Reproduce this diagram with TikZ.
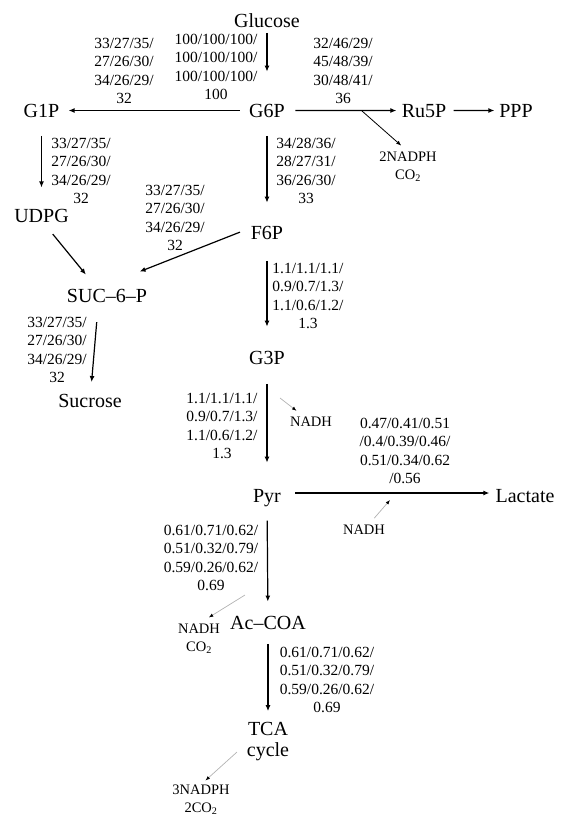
\documentclass[tikz,border=0pt]{standalone}
\usepackage{fontspec}
\setmainfont{Liberation Serif}
\usetikzlibrary{arrows.meta}

\tikzset{every picture/.style={line width=1.2pt}}
\tikzset{
  metab/.style={anchor=base,inner sep=0pt,font=\fontsize{20}{21}\selectfont},
  ratio/.style={align=center,inner sep=0pt,font=\fontsize{15.5}{18.6}\selectfont},
  cofac/.style={align=center,inner sep=0pt,font=\fontsize{14.5}{18}\selectfont},
  flux/.style={-{Latex[length=6pt,width=5pt]}},
  side/.style={-{Latex[length=4.5pt,width=3.5pt,color=black]},line width=0.7pt,draw=black!30},
}

\begin{document}
\begin{tikzpicture}[x=1pt,y=1pt,yscale=-1,xscale=1]
\useasboundingbox (0,0) rectangle (561,820);

% Text Node
\node [metab] (glc) at (267,27) {Glucose};
% Text Node
\node [metab] (g6p) at (267,117) {G6P};
% Text Node
\node [metab] (g1p) at (41.5,117) {G1P};
% Text Node
\node [metab] (ru5p) at (424,117) {Ru5P};
% Text Node
\node [metab] (ppp) at (516,117) {PPP};
% Text Node
\node [metab] (udpg) at (41.5,222) {UDPG};
% Text Node
\node [metab] (f6p) at (267,239) {F6P};
% Text Node
\node [metab] (suc6p) at (107,302) {SUC\textendash 6\textendash P};
% Text Node
\node [metab] (suc) at (90,407) {Sucrose};
% Text Node
\node [metab] (g3p) at (267,364) {G3P};
% Text Node
\node [metab] (pyr) at (267,502) {Pyr};
% Text Node
\node [metab] (lac) at (525,502) {Lactate};
% Text Node
\node [metab] (acoa) at (268,629) {Ac\textendash COA};
% Text Node
\node [metab,anchor=center,align=center] (tca) at (268,742) {TCA\\cycle};

% Cofactors
\node [cofac] (nadph1) at (408,167) {2NADPH\\CO\textsubscript{2}};
\node [cofac] (nadh1) at (311,422) {NADH};
\node [cofac] (nadh2) at (364,530) {NADH};
\node [cofac] (nadh3) at (199,639) {NADH\\CO\textsubscript{2}};
\node [cofac] (nadph2) at (201,800) {3NADPH\\2CO\textsubscript{2}};

% Flux values
\node [ratio] (lglc) at (216,67) {100/100/100/\\100/100/100/\\100/100/100/\\100};
\node [ratio] (lg1p) at (124,71) {33/27/35/\\27/26/30/\\34/26/29/\\32};
\node [ratio] (lru5p) at (343,71) {32/46/29/\\45/48/39/\\30/48/41/\\36};
\node [ratio] (lf6p) at (306,171) {34/28/36/\\28/27/31/\\36/26/30/\\33};
\node [ratio] (ludpg) at (81,171) {33/27/35/\\27/26/30/\\34/26/29/\\32};
\node [ratio] (lsuc6p) at (175,218) {33/27/35/\\27/26/30/\\34/26/29/\\32};
\node [ratio] (lsuc) at (57,350) {33/27/35/\\27/26/30/\\34/26/29/\\32};
\node [ratio] (lg3p) at (308,296) {1.1/1.1/1.1/\\0.9/0.7/1.3/\\1.1/0.6/1.2/\\1.3};
\node [ratio] (lpyr) at (222,426) {1.1/1.1/1.1/\\0.9/0.7/1.3/\\1.1/0.6/1.2/\\1.3};
\node [ratio] (llac) at (405,451) {0.47/0.41/0.51\\/0.4/0.39/0.46/\\0.51/0.34/0.62\\/0.56};
\node [ratio] (lacoa) at (211,558) {0.61/0.71/0.62/\\0.51/0.32/0.79/\\0.59/0.26/0.62/\\0.69};
\node [ratio] (ltca) at (327,680) {0.61/0.71/0.62/\\0.51/0.32/0.79/\\0.59/0.26/0.62/\\0.69};

% Free ends of the side arrows
\coordinate (ox1) at (362,111);
\coordinate (ox2) at (280,398);
\coordinate (ox3) at (390,500);
\coordinate (ox4) at (245,595);
\coordinate (ox5) at (237,752);

%Main fluxes
\draw [flux,shorten <=5pt,shorten >=31.5pt] (glc) -- (g6p);
\draw [flux,shorten <=9pt,shorten >=8.7pt] (g6p) -- (g1p);
\draw [flux,shorten <=10pt,shorten >=4.8pt] (g6p) -- (ru5p);
\draw [flux,shorten <=6.8pt,shorten >=4.3pt] (ru5p) -- (ppp);
\draw [flux,shorten <=18pt,shorten >=22.5pt] (g6p) -- (f6p);
\draw [flux,shorten <=18pt,shorten >=20.7pt] (g1p) -- (udpg);
\draw [flux,shorten <=24pt,shorten >=27pt] ([shift={(-4,0)}]udpg.center) -- ([shift={(-4,0)}]suc6p.center);
\draw [flux,shorten <=29pt,shorten >=35pt] ([shift={(0,-11)}]f6p.center) -- ([shift={(0,-11)}]suc6p.center);
\draw [flux,shorten <=26.7pt,shorten >=18.5pt] ([shift={(-8,0)}]suc6p.center) -- (suc.center);
\draw [flux,shorten <=21pt,shorten >=23.5pt] (f6p) -- (g3p);
\draw [flux,shorten <=19pt,shorten >=25.7pt] (g3p) -- (pyr);
\draw [flux,shorten <=14pt,shorten >=5.6pt] ([shift={(0,-9)}]pyr.base east) -- ([shift={(0,-9)}]lac.base west);
\draw [flux,shorten <=13.7pt,shorten >=13.6pt] (pyr) -- (acoa);
\draw [flux,shorten <=14pt,shorten >=11pt] (acoa) -- (tca);

%Side products
\draw [flux,line width=0.8pt,-{Latex[length=5pt,width=4pt]},shorten >=9pt] (ox1) -- (nadph1.north);
\draw [side,shorten >=9.5pt] (ox2) -- (nadh1);
\draw [side,shorten <=8.5pt] (nadh2) -- (ox3);
\draw [side,shorten >=11.5pt] (ox4) -- (nadh3.north);
\draw [side,shorten >=6pt] (ox5) -- (nadph2.north);

\end{tikzpicture}
\end{document}
